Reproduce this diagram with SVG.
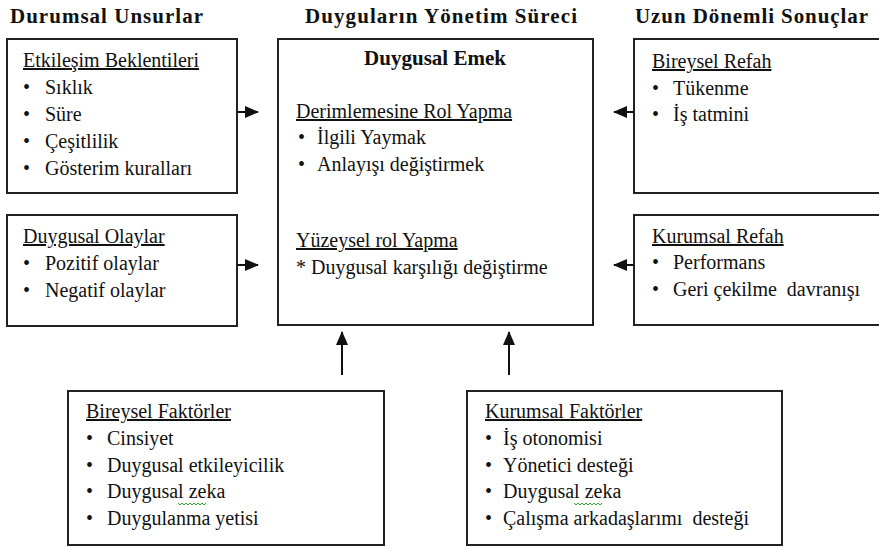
<svg xmlns="http://www.w3.org/2000/svg" width="879" height="548" viewBox="0 0 879 548">
  <defs>
    <marker id="arrow" viewBox="0 0 14 12" refX="13" refY="6" markerWidth="14" markerHeight="12" markerUnits="userSpaceOnUse" orient="auto">
      <path d="M0,0 L14,6 L0,12 z" fill="#111"/>
    </marker>
  </defs>
  <rect width="879" height="548" fill="#fff"/>

  <!-- column headings -->
  <g id="headings" fill="#111">
    <text font-family="'Liberation Serif'" font-size="21" font-weight="bold" x="10" y="23" textLength="193" lengthAdjust="spacing">Durumsal Unsurlar</text>
    <text font-family="'Liberation Serif'" font-size="21" font-weight="bold" x="305" y="23" textLength="272" lengthAdjust="spacing">Duyguların Yönetim Süreci</text>
    <text font-family="'Liberation Serif'" font-size="21" font-weight="bold" x="635" y="23" textLength="233" lengthAdjust="spacing">Uzun Dönemli Sonuçlar</text>
  </g>

  <!-- left column -->
  <g id="etkilesim" fill="#111">
    <rect x="7" y="39" width="230" height="154" fill="#fff" stroke="#222" stroke-width="2"/>
    <text font-family="'Liberation Serif'" font-size="20" text-decoration="underline" x="23" y="67">Etkileşim Beklentileri</text>
    <text font-family="'Liberation Serif'" font-size="20" x="23" y="94">•</text><text font-family="'Liberation Serif'" font-size="20" x="45" y="94">Sıklık</text>
    <text font-family="'Liberation Serif'" font-size="20" x="23" y="121">•</text><text font-family="'Liberation Serif'" font-size="20" x="45" y="121">Süre</text>
    <text font-family="'Liberation Serif'" font-size="20" x="23" y="148">•</text><text font-family="'Liberation Serif'" font-size="20" x="45" y="148">Çeşitlilik</text>
    <text font-family="'Liberation Serif'" font-size="20" x="23" y="175">•</text><text font-family="'Liberation Serif'" font-size="20" x="45" y="175">Gösterim kuralları</text>
  </g>

  <g id="olaylar" fill="#111">
    <rect x="7" y="215" width="230" height="111" fill="#fff" stroke="#222" stroke-width="2"/>
    <text font-family="'Liberation Serif'" font-size="20" text-decoration="underline" x="23" y="243">Duygusal Olaylar</text>
    <text font-family="'Liberation Serif'" font-size="20" x="23" y="270">•</text><text font-family="'Liberation Serif'" font-size="20" x="45" y="270">Pozitif olaylar</text>
    <text font-family="'Liberation Serif'" font-size="20" x="23" y="297">•</text><text font-family="'Liberation Serif'" font-size="20" x="45" y="297">Negatif olaylar</text>
  </g>

  <!-- centre -->
  <g id="emek" fill="#111">
    <rect x="278" y="39" width="315" height="286" fill="#fff" stroke="#222" stroke-width="2"/>
    <text font-family="'Liberation Serif'" font-size="21" font-weight="bold" x="435" y="65" text-anchor="middle">Duygusal Emek</text>
    <text font-family="'Liberation Serif'" font-size="20" text-decoration="underline" x="296" y="118">Derimlemesine Rol Yapma</text>
    <text font-family="'Liberation Serif'" font-size="20" x="298" y="144">•</text><text font-family="'Liberation Serif'" font-size="20" x="317" y="144">İlgili Yaymak</text>
    <text font-family="'Liberation Serif'" font-size="20" x="298" y="171">•</text><text font-family="'Liberation Serif'" font-size="20" x="317" y="171">Anlayışı değiştirmek</text>
    <text font-family="'Liberation Serif'" font-size="20" text-decoration="underline" x="296" y="247">Yüzeysel rol Yapma</text>
    <text font-family="'Liberation Serif'" font-size="20" x="296" y="274">* Duygusal karşılığı değiştirme</text>
  </g>

  <!-- right column -->
  <g id="bireysel-refah" fill="#111">
    <rect x="634" y="39" width="260" height="154" fill="#fff" stroke="#222" stroke-width="2"/>
    <text font-family="'Liberation Serif'" font-size="20" text-decoration="underline" x="652" y="68">Bireysel Refah</text>
    <text font-family="'Liberation Serif'" font-size="20" x="652" y="95">•</text><text font-family="'Liberation Serif'" font-size="20" x="673" y="95">Tükenme</text>
    <text font-family="'Liberation Serif'" font-size="20" x="652" y="121">•</text><text font-family="'Liberation Serif'" font-size="20" x="673" y="121">İş tatmini</text>
  </g>

  <g id="kurumsal-refah" fill="#111">
    <rect x="634" y="215" width="260" height="110" fill="#fff" stroke="#222" stroke-width="2"/>
    <text font-family="'Liberation Serif'" font-size="20" text-decoration="underline" x="652" y="243">Kurumsal Refah</text>
    <text font-family="'Liberation Serif'" font-size="20" x="652" y="269">•</text><text font-family="'Liberation Serif'" font-size="20" x="673" y="269">Performans</text>
    <text font-family="'Liberation Serif'" font-size="20" x="652" y="296">•</text><text font-family="'Liberation Serif'" font-size="20" x="673" y="296" xml:space="preserve">Geri çekilme  davranışı</text>
  </g>

  <!-- bottom row -->
  <g id="bireysel-faktorler" fill="#111">
    <rect x="68" y="391" width="316" height="154" fill="#fff" stroke="#222" stroke-width="2"/>
    <text font-family="'Liberation Serif'" font-size="20" text-decoration="underline" x="86" y="418">Bireysel Faktörler</text>
    <text font-family="'Liberation Serif'" font-size="20" x="86" y="445">•</text><text font-family="'Liberation Serif'" font-size="20" x="107" y="445">Cinsiyet</text>
    <text font-family="'Liberation Serif'" font-size="20" x="86" y="472">•</text><text font-family="'Liberation Serif'" font-size="20" x="107" y="472">Duygusal etkileyicilik</text>
    <text font-family="'Liberation Serif'" font-size="20" x="86" y="498">•</text><text font-family="'Liberation Serif'" font-size="20" x="107" y="498">Duygusal zeka</text>
    <path d="M178,503 l2,2 l2,-2 l2,2 l2,-2 l2,2 l2,-2 l2,2 l2,-2 l2,2 l2,-2 l2,2 l2,-2 l2,2 l2,-2" fill="none" stroke="#3a3" stroke-width="1"/>
    <text font-family="'Liberation Serif'" font-size="20" x="86" y="525">•</text><text font-family="'Liberation Serif'" font-size="20" x="107" y="525">Duygulanma yetisi</text>
  </g>

  <g id="kurumsal-faktorler" fill="#111">
    <rect x="467" y="391" width="315" height="154" fill="#fff" stroke="#222" stroke-width="2"/>
    <text font-family="'Liberation Serif'" font-size="20" text-decoration="underline" x="485" y="418">Kurumsal Faktörler</text>
    <text font-family="'Liberation Serif'" font-size="20" x="485" y="445">•</text><text font-family="'Liberation Serif'" font-size="20" x="503" y="445">İş otonomisi</text>
    <text font-family="'Liberation Serif'" font-size="20" x="485" y="472">•</text><text font-family="'Liberation Serif'" font-size="20" x="503" y="472">Yönetici desteği</text>
    <text font-family="'Liberation Serif'" font-size="20" x="485" y="498">•</text><text font-family="'Liberation Serif'" font-size="20" x="503" y="498">Duygusal zeka</text>
    <path d="M574,503 l2,2 l2,-2 l2,2 l2,-2 l2,2 l2,-2 l2,2 l2,-2 l2,2 l2,-2 l2,2 l2,-2 l2,2 l2,-2" fill="none" stroke="#3a3" stroke-width="1"/>
    <text font-family="'Liberation Serif'" font-size="20" x="485" y="525">•</text><text font-family="'Liberation Serif'" font-size="20" x="503" y="525" xml:space="preserve">Çalışma arkadaşlarımı  desteği</text>
  </g>

  <!-- connectors -->
  <g id="connectors" stroke="#111" stroke-width="2" fill="none">
    <line x1="237" y1="112" x2="258" y2="112" marker-end="url(#arrow)"/>
    <line x1="237" y1="265" x2="258" y2="265" marker-end="url(#arrow)"/>
    <line x1="634" y1="112" x2="614" y2="112" marker-end="url(#arrow)"/>
    <line x1="634" y1="265" x2="614" y2="265" marker-end="url(#arrow)"/>
    <line x1="342" y1="375" x2="342" y2="332" marker-end="url(#arrow)"/>
    <line x1="509" y1="375" x2="509" y2="332" marker-end="url(#arrow)"/>
  </g>
</svg>
